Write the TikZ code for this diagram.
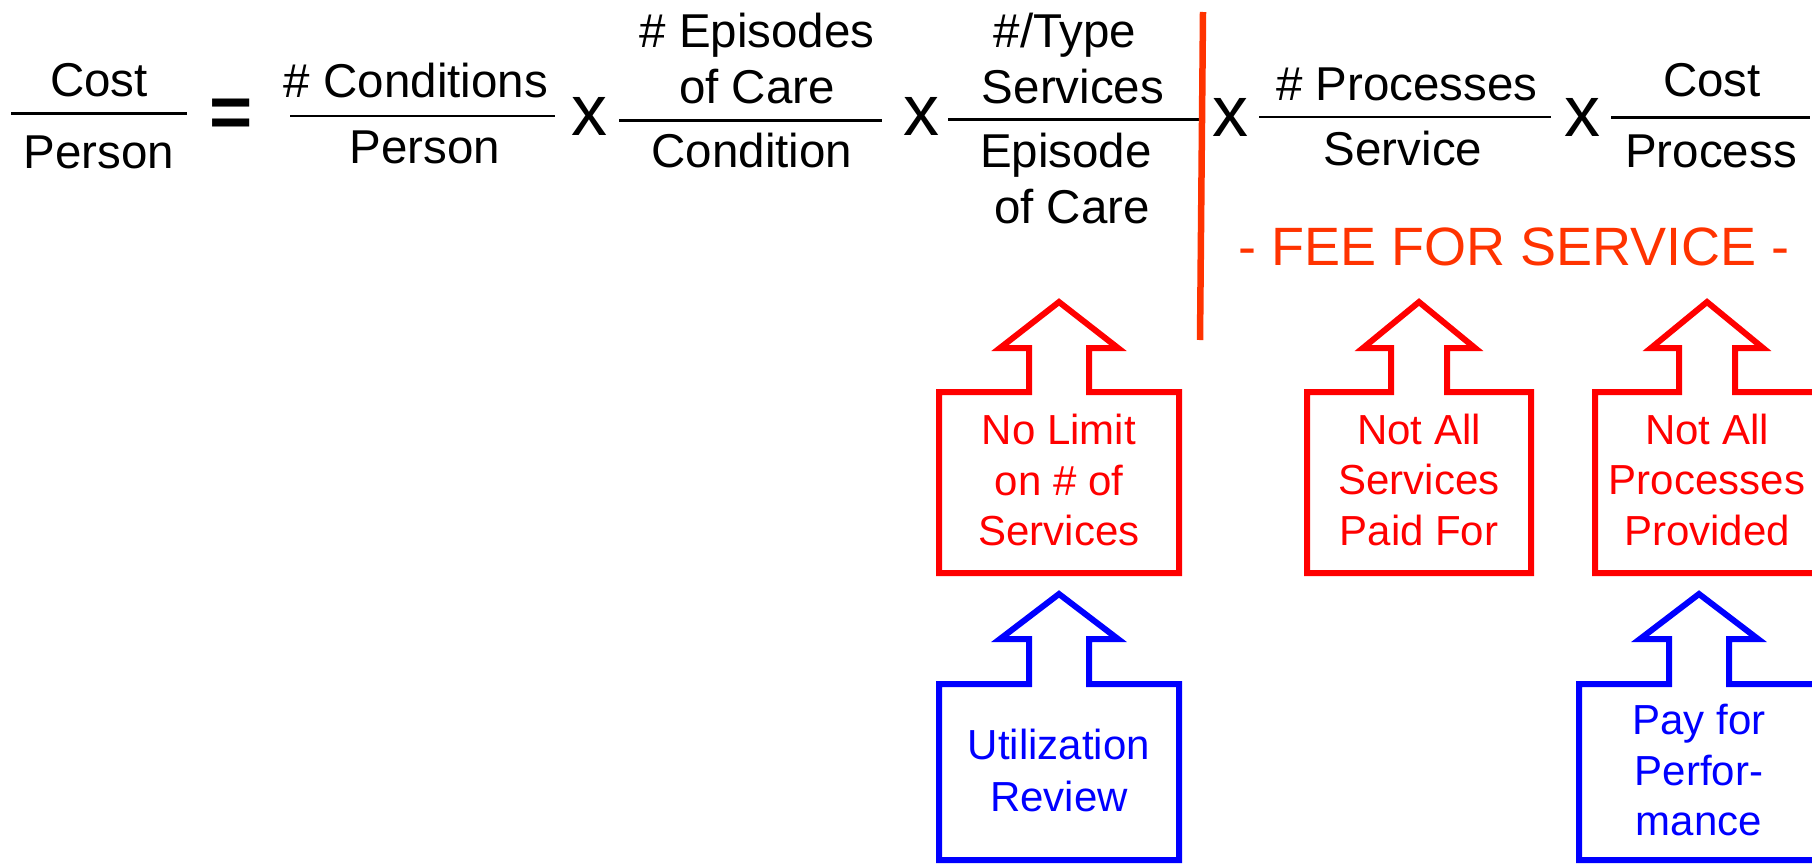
\documentclass[tikz,border=0pt]{standalone}
\usepackage{fontspec}
\setmainfont{Liberation Sans}
\definecolor{feered}{HTML}{FF3300}
\definecolor{boxred}{HTML}{FF0000}
\definecolor{boxblue}{HTML}{0000FF}

% Up-pointing arrow box: colour, centre x, apex y, head base y,
% body top y, body bottom y, body half width, shaft half width, head half width
\newcommand\uparrowbox[9]{%
  \draw[boxline, #1]
    ({#2-#7},#6) -- ({#2-#7},#5) -- ({#2-#8},#5) -- ({#2-#8},#4)
    -- ({#2-#9},#4) -- (#2,#3) -- ({#2+#9},#4) -- ({#2+#8},#4)
    -- ({#2+#8},#5) -- ({#2+#7},#5) -- ({#2+#7},#6) -- cycle;}

\begin{document}
\begin{tikzpicture}[x=1pt,y=-1pt,
  eqtext/.style={font=\fontsize{47.5}{57}\selectfont, anchor=base, inner sep=0pt},
  timessign/.style={font=\fontsize{72}{80}\selectfont, anchor=center, inner sep=0pt},
  equalsign/.style={font=\fontsize{74}{80}\selectfont\bfseries, anchor=center, inner sep=0pt},
  barline/.style={line width=2.5pt, black},
  divider/.style={line width=6.5pt, feered},
  boxline/.style={line width=6pt, line join=miter, miter limit=20},
  redtext/.style={font=\fontsize{42}{50}\selectfont, anchor=base, inner sep=0pt, text=boxred},
  bluetext/.style={font=\fontsize{42}{50}\selectfont, anchor=base, inner sep=0pt, text=boxblue},
  feetext/.style={font=\fontsize{54}{60}\selectfont, anchor=base, inner sep=0pt, text=feered},
]
\path[use as bounding box, clip] (0,0) rectangle (1812,865);

% ---- Cost / Person = ...
\node[eqtext] (costA) at (99,96) {Cost};
\draw[barline] (11,113.5) -- (187,113.5);
\node[eqtext] (personA) at (99,168) {Person};

\node[equalsign] (eq) at (231,118.5) {=};

\node[eqtext] (cond) at (416,97) {\# Conditions};
\draw[barline] (290,116) -- (555,116);
\node[eqtext] (personB) at (425,163) {Person};

\node[timessign] (x1) at (589,116) {x};

\node[eqtext] (epi1) at (757,47) {\# Episodes};
\node[eqtext] (epi2) at (757,103) {of Care};
\draw[barline] (619,120.5) -- (882,120.5);
\node[eqtext] (condition) at (752,167) {Condition};

\node[timessign] (x2) at (921,116) {x};

\node[eqtext] (type1) at (1065,47) {\#/Type};
\node[eqtext] (type2) at (1073,103) {Services};
\draw[barline] (948,119.5) -- (1201,119.5);
\node[eqtext] (episode1) at (1066,167) {Episode};
\node[eqtext] (episode2) at (1072,223) {of Care};

% fee-for-service divider
\draw[divider] (1203,12) -- (1200,340);

\node[timessign] (x3) at (1230,117) {x};

\node[eqtext] (proc) at (1407,100) {\# Processes};
\draw[barline] (1259,117) -- (1551,117);
\node[eqtext] (service) at (1403,165) {Service};

\node[timessign] (x4) at (1582,117) {x};

\node[eqtext] (costB) at (1712,96) {Cost};
\draw[barline] (1611,117.5) -- (1810,117.5);
\node[eqtext] (process) at (1711,167) {Process};

\node[feetext] (fee) at (1514,265) {- FEE FOR SERVICE -};

% ---- red arrow boxes
\uparrowbox{boxred}{1059}{302}{348}{392}{573}{120}{30}{59}
\node[redtext] (nl1) at (1059,444) {No Limit};
\node[redtext] (nl2) at (1059,495) {on \# of};
\node[redtext] (nl3) at (1059,545) {Services};

\uparrowbox{boxred}{1419}{302}{348}{392}{573}{112}{28}{56}
\node[redtext] (ns1) at (1419,444) {Not All};
\node[redtext] (ns2) at (1419,494) {Services};
\node[redtext] (ns3) at (1419,545) {Paid For};

\uparrowbox{boxred}{1707}{302}{348}{392}{573}{112}{28}{56}
\node[redtext] (np1) at (1707,444) {Not All};
\node[redtext] (np2) at (1707,494) {Processes};
\node[redtext] (np3) at (1707,545) {Provided};

% ---- blue arrow boxes
\uparrowbox{boxblue}{1059}{594}{639}{684}{860}{120}{30}{59}
\node[bluetext] (ur1) at (1059,759) {Utilization};
\node[bluetext] (ur2) at (1059,811) {Review};

\uparrowbox{boxblue}{1699}{594}{639}{684}{860}{120}{30}{59}
\node[bluetext] (pp1) at (1699,734) {Pay for};
\node[bluetext] (pp2) at (1699,785) {Perfor-};
\node[bluetext] (pp3) at (1699,835) {mance};
\end{tikzpicture}
\end{document}
